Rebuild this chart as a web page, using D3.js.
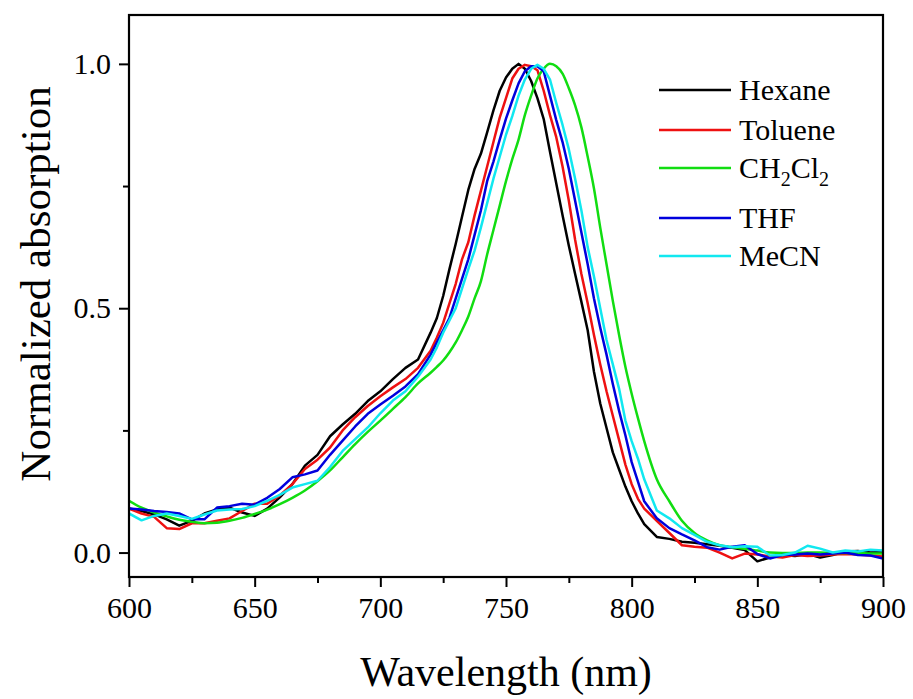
<!DOCTYPE html>
<html>
<head>
<meta charset="utf-8">
<script src="https://cdnjs.cloudflare.com/ajax/libs/d3/7.8.5/d3.min.js"></script>
<style>
  body { margin: 0; background: #fff; }
  svg { font-family: "Liberation Serif", "Times New Roman", serif; }
</style>
</head>
<body>
<div id="chart"></div>
<script>
// wavelength grid (nm), finer around the band
var wavelengths = [
    600, 605, 610, 615, 620, 625, 630, 635, 640, 645, 650, 655, 660, 665, 670, 675, 680, 685, 690, 695, 700, 705, 710, 715, 720,
    722.5, 725, 727.5, 730, 732.5, 735, 737.5, 740, 742.5, 745, 747.5, 750, 752.5, 755, 757.5, 760, 762.5, 765, 767.5, 770,
    772.5, 775, 777.5, 780, 782.5, 785, 787.5, 790, 792.5, 795, 797.5, 800, 802.5,
    805, 810, 815, 820, 825, 830, 835, 840, 845, 850, 855, 860, 865, 870, 875, 880, 885, 890, 895, 900
];

var hexane = [
    0.090, 0.085, 0.078, 0.068, 0.055, 0.065, 0.080, 0.088, 0.092, 0.082, 0.075, 0.090, 0.113, 0.140, 0.178, 0.200, 0.238, 0.262, 0.284, 0.310, 0.330, 0.355, 0.378, 0.395, 0.450,
    0.480, 0.525, 0.580, 0.632, 0.687, 0.742, 0.785, 0.816, 0.860, 0.905, 0.945, 0.972, 0.990, 1.000, 0.990, 0.965, 0.930, 0.887, 0.820, 0.755,
    0.690, 0.628, 0.570, 0.513, 0.455, 0.370, 0.305, 0.255, 0.205, 0.170, 0.135, 0.105, 0.080,
    0.058, 0.032, 0.028, 0.022, 0.020, 0.017, 0.014, 0.010, 0.005, -0.018, -0.010, -0.005, -0.007, -0.003, -0.010, -0.005, 0.002, 0.003, 0.000, 0.001
];

var toluene = [
    0.090, 0.080, 0.073, 0.050, 0.048, 0.060, 0.060, 0.065, 0.070, 0.085, 0.100, 0.100, 0.117, 0.140, 0.171, 0.190, 0.215, 0.250, 0.277, 0.300, 0.320, 0.338, 0.355, 0.378, 0.413,
    0.440, 0.470, 0.510, 0.550, 0.600, 0.635, 0.690, 0.740, 0.790, 0.840, 0.890, 0.930, 0.970, 0.990, 0.998, 0.995, 0.987, 0.945, 0.895, 0.850,
    0.790, 0.720, 0.640, 0.570, 0.510, 0.445, 0.385, 0.330, 0.280, 0.230, 0.180, 0.140, 0.110,
    0.090, 0.065, 0.040, 0.015, 0.012, 0.010, 0.000, -0.012, -0.002, -0.004, -0.008, -0.010, -0.005, -0.007, -0.006, -0.004, -0.003, -0.004, -0.006, -0.008
];

var ch2cl2 = [
    0.106, 0.092, 0.082, 0.074, 0.067, 0.063, 0.060, 0.061, 0.065, 0.071, 0.079, 0.088, 0.099, 0.112, 0.127, 0.146, 0.168, 0.195, 0.222, 0.247, 0.270, 0.294, 0.318, 0.346, 0.368,
    0.380, 0.393, 0.410, 0.430, 0.455, 0.483, 0.520, 0.555, 0.610, 0.660, 0.710, 0.760, 0.805, 0.845, 0.895, 0.935, 0.970, 0.990, 1.000, 0.995,
    0.980, 0.950, 0.915, 0.870, 0.810, 0.745, 0.665, 0.590, 0.515, 0.445, 0.380, 0.325, 0.275,
    0.228, 0.150, 0.105, 0.065, 0.040, 0.025, 0.015, 0.011, 0.008, 0.004, 0.000, -0.001, -0.001, 0.000, 0.000, -0.001, -0.001, -0.001, -0.002, -0.002
];

var thf = [
    0.090, 0.088, 0.085, 0.083, 0.080, 0.068, 0.068, 0.092, 0.095, 0.100, 0.098, 0.112, 0.130, 0.154, 0.160, 0.168, 0.200, 0.229, 0.258, 0.284, 0.303, 0.321, 0.340, 0.365, 0.405,
    0.430, 0.455, 0.480, 0.520, 0.560, 0.600, 0.650, 0.700, 0.760, 0.800, 0.845, 0.888, 0.925, 0.960, 0.985, 0.995, 0.995, 0.985, 0.935, 0.885,
    0.840, 0.785, 0.720, 0.655, 0.590, 0.520, 0.460, 0.405, 0.345, 0.290, 0.240, 0.185, 0.145,
    0.105, 0.070, 0.050, 0.037, 0.025, 0.011, 0.006, 0.012, 0.015, -0.003, -0.012, -0.005, -0.004, -0.002, -0.004, -0.002, 0.000, -0.005, -0.006, -0.012
];

var mecn = [
    0.080, 0.066, 0.075, 0.080, 0.075, 0.069, 0.078, 0.086, 0.088, 0.089, 0.095, 0.106, 0.118, 0.133, 0.140, 0.147, 0.175, 0.208, 0.232, 0.256, 0.285, 0.311, 0.330, 0.360, 0.395,
    0.420, 0.450, 0.475, 0.500, 0.540, 0.580, 0.618, 0.665, 0.715, 0.765, 0.810, 0.855, 0.893, 0.935, 0.968, 0.990, 0.998, 0.990, 0.968, 0.920,
    0.875, 0.825, 0.765, 0.700, 0.625, 0.565, 0.500, 0.435, 0.385, 0.335, 0.270, 0.228, 0.192,
    0.150, 0.086, 0.070, 0.050, 0.036, 0.022, 0.015, 0.011, 0.013, 0.012, -0.006, -0.005, 0.000, 0.014, 0.008, 0.000, 0.004, 0.002, 0.006, 0.004
];

var seriesNames = ["Hexane", "Toluene", "CH2Cl2", "THF", "MeCN"];
var seriesValues = [hexane, toluene, ch2cl2, thf, mecn];
var seriesColors = ["#000000", "#ee1111", "#11dd11", "#0000dd", "#11e8f0"];

var xTicks = [600, 650, 700, 750, 800, 850, 900];
var xMinorTicks = [625, 675, 725, 775, 825, 875];
var yTicks = [0.0, 0.5, 1.0];
var yMinorTicks = [0.25, 0.75];

function drawSpectra() {
    var width = 913, height = 699;
    var plotLeft = 129, plotRight = 883, plotTop = 15, plotBottom = 577;

    var svg = d3.select("#chart").append("svg")
        .attr("width", width)
        .attr("height", height);

    var x = d3.scaleLinear().domain([600, 900]).range([plotLeft, plotRight]);
    var y = d3.scaleLinear().domain([-0.05, 1.1]).range([plotBottom, plotTop]);

    svg.append("clipPath").attr("id", "plotclip")
        .append("rect")
        .attr("x", plotLeft).attr("y", plotTop)
        .attr("width", plotRight - plotLeft).attr("height", plotBottom - plotTop);

    // curves
    var line = d3.line()
        .x(function (d) { return x(d[0]); })
        .y(function (d) { return y(d[1]); });

    var curves = svg.append("g").attr("clip-path", "url(#plotclip)");
    seriesValues.forEach(function (vals, i) {
        var pts = wavelengths.map(function (w, j) { return [w, vals[j]]; });
        curves.append("path")
            .datum(pts)
            .attr("fill", "none")
            .attr("stroke", seriesColors[i])
            .attr("stroke-width", 2.5)
            .attr("stroke-linejoin", "round")
            .attr("d", line.curve(i === 2 ? d3.curveMonotoneX : d3.curveLinear));
    });

    // frame
    svg.append("rect")
        .attr("x", plotLeft).attr("y", plotTop)
        .attr("width", plotRight - plotLeft).attr("height", plotBottom - plotTop)
        .attr("fill", "none")
        .attr("stroke", "#000")
        .attr("stroke-width", 2.2);

    // bottom axis
    var xAxis = svg.append("g").attr("transform", "translate(0," + plotBottom + ")");
    xAxis.call(d3.axisBottom(x).tickValues(xTicks).tickSize(10).tickPadding(10).tickFormat(d3.format("d")));
    xAxis.append("g").call(d3.axisBottom(x).tickValues(xMinorTicks).tickSize(6).tickFormat(""));

    // left axis
    var yAxis = svg.append("g").attr("transform", "translate(" + plotLeft + ",0)");
    yAxis.call(d3.axisLeft(y).tickValues(yTicks).tickSize(10).tickPadding(8).tickFormat(d3.format(".1f")));
    yAxis.append("g").call(d3.axisLeft(y).tickValues(yMinorTicks).tickSize(6).tickFormat(""));

    svg.selectAll(".domain").remove();
    svg.selectAll(".tick line").attr("stroke", "#000").attr("stroke-width", 2);
    svg.selectAll(".tick text")
        .attr("fill", "#000")
        .style("font-family", "'Liberation Serif', serif")
        .style("font-size", "30px");

    // axis titles
    svg.append("text")
        .attr("x", (plotLeft + plotRight) / 2)
        .attr("y", 686)
        .attr("text-anchor", "middle")
        .style("font-size", "42px")
        .text("Wavelength (nm)");

    svg.append("text")
        .attr("transform", "translate(50,284) rotate(-90)")
        .attr("text-anchor", "middle")
        .style("font-size", "43px")
        .text("Normalized absorption");

    // legend
    var legendY = [90, 130, 168, 218, 256];
    var legend = svg.append("g");
    seriesNames.forEach(function (name, i) {
        legend.append("line")
            .attr("x1", 659).attr("x2", 731)
            .attr("y1", legendY[i]).attr("y2", legendY[i])
            .attr("stroke", seriesColors[i])
            .attr("stroke-width", 2.6);
        var t = legend.append("text")
            .attr("x", 739)
            .attr("y", legendY[i] + 10)
            .style("font-size", "30px");
        if (name === "CH2Cl2") {
            t.append("tspan").text("CH");
            t.append("tspan").attr("dy", 8).style("font-size", "20px").text("2");
            t.append("tspan").attr("dy", -8).text("Cl");
            t.append("tspan").attr("dy", 8).style("font-size", "20px").text("2");
        } else {
            t.text(name);
        }
    });
}

drawSpectra();
</script>
</body>
</html>
